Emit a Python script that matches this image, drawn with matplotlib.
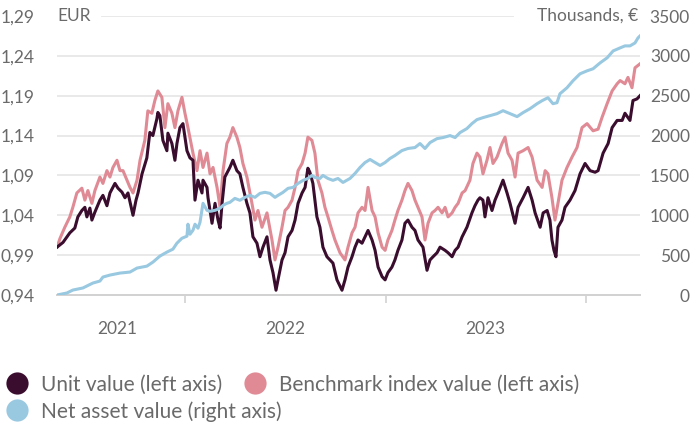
import matplotlib.pyplot as plt

plt.rcParams['font.family'] = ['Lato', 'DejaVu Sans']

# Unit value, EUR (left axis); time in decimal years
unit_t = [2021.362, 2021.392, 2021.426, 2021.451, 2021.466, 2021.486, 2021.501, 2021.511, 2021.526, 2021.536,
          2021.551, 2021.576, 2021.591, 2021.611, 2021.626, 2021.651, 2021.666, 2021.686, 2021.701, 2021.716,
          2021.741, 2021.756, 2021.766, 2021.786, 2021.810, 2021.825, 2021.840, 2021.860, 2021.865, 2021.875,
          2021.890, 2021.910, 2021.915, 2021.935, 2021.950, 2021.960, 2021.975, 2021.990, 2022.010, 2022.025,
          2022.040, 2022.050, 2022.065, 2022.085, 2022.090, 2022.110, 2022.115, 2022.135, 2022.150, 2022.165,
          2022.175, 2022.185, 2022.199, 2022.224, 2022.239, 2022.259, 2022.274, 2022.289, 2022.309, 2022.324,
          2022.339, 2022.359, 2022.374, 2022.389, 2022.409, 2022.424, 2022.439, 2022.454, 2022.464, 2022.484,
          2022.499, 2022.514, 2022.534, 2022.549, 2022.564, 2022.584, 2022.599, 2022.613, 2022.623, 2022.638,
          2022.658, 2022.673, 2022.688, 2022.708, 2022.723, 2022.738, 2022.758, 2022.783, 2022.798, 2022.813,
          2022.833, 2022.848, 2022.863, 2022.883, 2022.898, 2022.913, 2022.933, 2022.948, 2022.963, 2022.983,
          2022.998, 2023.012, 2023.032, 2023.047, 2023.062, 2023.082, 2023.097, 2023.112, 2023.132, 2023.147,
          2023.162, 2023.187, 2023.207, 2023.222, 2023.237, 2023.257, 2023.272, 2023.297, 2023.312, 2023.332,
          2023.347, 2023.362, 2023.382, 2023.406, 2023.431, 2023.446, 2023.461, 2023.471, 2023.486, 2023.496,
          2023.511, 2023.531, 2023.546, 2023.561, 2023.586, 2023.606, 2023.621, 2023.646, 2023.661, 2023.686,
          2023.711, 2023.731, 2023.746, 2023.771, 2023.786, 2023.806, 2023.820, 2023.830, 2023.840, 2023.850,
          2023.860, 2023.880, 2023.895, 2023.920, 2023.945, 2023.970, 2023.995, 2024.020, 2024.045, 2024.060,
          2024.085, 2024.110, 2024.130, 2024.155, 2024.180, 2024.194, 2024.219, 2024.234, 2024.254, 2024.269]
unit_v = [1.000, 1.006, 1.018, 1.024, 1.038, 1.046, 1.050, 1.038, 1.049, 1.034,
          1.044, 1.059, 1.065, 1.052, 1.068, 1.080, 1.074, 1.069, 1.062, 1.068,
          1.040, 1.059, 1.068, 1.092, 1.112, 1.144, 1.140, 1.161, 1.169, 1.165,
          1.134, 1.121, 1.143, 1.130, 1.109, 1.130, 1.150, 1.155, 1.121, 1.112,
          1.109, 1.059, 1.084, 1.068, 1.084, 1.075, 1.062, 1.030, 1.055, 1.034,
          1.024, 1.055, 1.088, 1.100, 1.109, 1.096, 1.092, 1.075, 1.055, 1.043,
          1.013, 1.005, 0.988, 1.000, 1.013, 0.984, 0.968, 0.946, 0.959, 0.984,
          0.993, 1.013, 1.021, 1.034, 1.055, 1.068, 1.075, 1.099, 1.094, 1.080,
          1.038, 1.025, 1.000, 0.988, 0.984, 0.980, 0.959, 0.946, 0.959, 0.975,
          0.988, 1.000, 1.009, 1.005, 1.013, 1.021, 1.009, 0.996, 0.975, 0.963,
          0.959, 0.968, 0.975, 0.984, 0.996, 1.009, 1.030, 1.034, 1.025, 1.021,
          1.009, 1.000, 0.971, 0.984, 0.988, 0.993, 1.000, 0.996, 0.993, 0.988,
          0.996, 1.000, 1.013, 1.025, 1.043, 1.052, 1.059, 1.062, 1.059, 1.038,
          1.062, 1.046, 1.059, 1.068, 1.084, 1.068, 1.055, 1.030, 1.050, 1.062,
          1.075, 1.059, 1.043, 1.025, 1.043, 1.046, 1.034, 1.009, 0.996, 0.988,
          1.025, 1.034, 1.050, 1.059, 1.071, 1.092, 1.105, 1.096, 1.094, 1.096,
          1.118, 1.130, 1.150, 1.159, 1.159, 1.168, 1.159, 1.184, 1.186, 1.190]

# Benchmark index value, EUR (left axis)
bench_t = [2021.362, 2021.377, 2021.401, 2021.426, 2021.441, 2021.461, 2021.486, 2021.501, 2021.516, 2021.536,
           2021.551, 2021.576, 2021.591, 2021.611, 2021.626, 2021.641, 2021.661, 2021.676, 2021.691, 2021.711,
           2021.726, 2021.741, 2021.761, 2021.776, 2021.800, 2021.815, 2021.835, 2021.850, 2021.865, 2021.885,
           2021.900, 2021.915, 2021.935, 2021.950, 2021.965, 2021.985, 2022.000, 2022.015, 2022.040, 2022.060,
           2022.075, 2022.090, 2022.110, 2022.125, 2022.140, 2022.160, 2022.175, 2022.190, 2022.209, 2022.224,
           2022.239, 2022.259, 2022.274, 2022.289, 2022.309, 2022.334, 2022.349, 2022.364, 2022.384, 2022.409,
           2022.434, 2022.449, 2022.464, 2022.484, 2022.499, 2022.514, 2022.534, 2022.549, 2022.564, 2022.584,
           2022.599, 2022.613, 2022.633, 2022.648, 2022.663, 2022.683, 2022.698, 2022.713, 2022.733, 2022.748,
           2022.773, 2022.798, 2022.813, 2022.833, 2022.848, 2022.863, 2022.883, 2022.898, 2022.913, 2022.933,
           2022.948, 2022.963, 2022.983, 2022.998, 2023.012, 2023.032, 2023.047, 2023.062, 2023.082, 2023.097,
           2023.112, 2023.132, 2023.147, 2023.162, 2023.182, 2023.197, 2023.212, 2023.232, 2023.247, 2023.262,
           2023.282, 2023.297, 2023.312, 2023.332, 2023.347, 2023.362, 2023.382, 2023.397, 2023.421, 2023.436,
           2023.456, 2023.471, 2023.486, 2023.506, 2023.521, 2023.536, 2023.556, 2023.581, 2023.596, 2023.611,
           2023.631, 2023.646, 2023.661, 2023.686, 2023.711, 2023.731, 2023.756, 2023.781, 2023.796, 2023.810,
           2023.830, 2023.845, 2023.860, 2023.880, 2023.905, 2023.930, 2023.955, 2023.980, 2024.005, 2024.035,
           2024.060, 2024.080, 2024.105, 2024.130, 2024.155, 2024.170, 2024.194, 2024.209, 2024.229, 2024.244,
           2024.259, 2024.269]
bench_v = [1.000, 1.011, 1.025, 1.038, 1.050, 1.068, 1.074, 1.059, 1.071, 1.055,
           1.071, 1.088, 1.080, 1.096, 1.088, 1.100, 1.109, 1.096, 1.096, 1.084,
           1.075, 1.068, 1.084, 1.109, 1.134, 1.171, 1.168, 1.184, 1.196, 1.188,
           1.150, 1.180, 1.168, 1.150, 1.171, 1.188, 1.168, 1.150, 1.118, 1.096,
           1.121, 1.100, 1.118, 1.092, 1.100, 1.075, 1.050, 1.096, 1.130, 1.138,
           1.150, 1.138, 1.125, 1.105, 1.088, 1.055, 1.034, 1.046, 1.025, 1.043,
           1.009, 0.984, 1.000, 1.025, 1.046, 1.050, 1.059, 1.075, 1.096, 1.105,
           1.118, 1.138, 1.134, 1.118, 1.084, 1.068, 1.050, 1.038, 1.021, 1.009,
           0.993, 0.984, 1.000, 1.018, 1.025, 1.043, 1.050, 1.046, 1.075, 1.046,
           1.038, 1.018, 1.000, 0.996, 1.009, 1.021, 1.034, 1.046, 1.059, 1.071,
           1.080, 1.071, 1.059, 1.050, 1.038, 1.009, 1.030, 1.043, 1.046, 1.050,
           1.043, 1.050, 1.038, 1.043, 1.050, 1.055, 1.068, 1.071, 1.084, 1.105,
           1.118, 1.113, 1.092, 1.109, 1.125, 1.105, 1.113, 1.130, 1.138, 1.118,
           1.109, 1.088, 1.118, 1.121, 1.125, 1.113, 1.084, 1.075, 1.096, 1.092,
           1.062, 1.034, 1.055, 1.084, 1.100, 1.113, 1.125, 1.150, 1.155, 1.146,
           1.148, 1.163, 1.180, 1.196, 1.205, 1.209, 1.205, 1.213, 1.200, 1.225,
           1.228, 1.230]

# Net asset value, thousands of EUR (right axis)
nav_t = [2021.362, 2021.411, 2021.441, 2021.491, 2021.541, 2021.576, 2021.591, 2021.626, 2021.676, 2021.726,
         2021.761, 2021.810, 2021.840, 2021.875, 2021.910, 2021.940, 2021.960, 2021.985, 2022.010, 2022.015,
         2022.025, 2022.040, 2022.050, 2022.065, 2022.075, 2022.090, 2022.110, 2022.125, 2022.150, 2022.175,
         2022.190, 2022.209, 2022.224, 2022.249, 2022.274, 2022.299, 2022.324, 2022.349, 2022.374, 2022.399,
         2022.424, 2022.449, 2022.464, 2022.489, 2022.514, 2022.539, 2022.564, 2022.589, 2022.613, 2022.633,
         2022.648, 2022.673, 2022.688, 2022.713, 2022.738, 2022.763, 2022.788, 2022.823, 2022.848, 2022.873,
         2022.898, 2022.923, 2022.948, 2022.973, 2022.998, 2023.022, 2023.047, 2023.082, 2023.112, 2023.147,
         2023.172, 2023.197, 2023.222, 2023.257, 2023.287, 2023.322, 2023.347, 2023.372, 2023.406, 2023.431,
         2023.456, 2023.486, 2023.521, 2023.556, 2023.586, 2023.621, 2023.656, 2023.686, 2023.721, 2023.756,
         2023.781, 2023.810, 2023.835, 2023.855, 2023.870, 2023.905, 2023.935, 2023.970, 2024.005, 2024.035,
         2024.070, 2024.105, 2024.135, 2024.170, 2024.194, 2024.219, 2024.244, 2024.259, 2024.269]
nav_v = [0, 25, 62, 88, 150, 175, 225, 250, 275, 288,
         338, 362, 412, 488, 538, 575, 650, 712, 738, 888,
         762, 812, 888, 838, 912, 1150, 1062, 1050, 1062, 1088,
         1125, 1150, 1162, 1212, 1188, 1225, 1250, 1225, 1275, 1288,
         1275, 1225, 1250, 1288, 1338, 1350, 1400, 1438, 1462, 1500,
         1475, 1462, 1500, 1462, 1438, 1462, 1412, 1462, 1525, 1600,
         1662, 1700, 1662, 1625, 1662, 1712, 1750, 1812, 1838, 1850,
         1900, 1838, 1912, 1962, 1975, 2000, 1975, 2038, 2088, 2150,
         2200, 2225, 2250, 2275, 2312, 2275, 2238, 2288, 2338, 2400,
         2438, 2475, 2400, 2412, 2525, 2600, 2688, 2775, 2812, 2838,
         2912, 2975, 3062, 3100, 3125, 3125, 3162, 3225, 3250]

left_ticks = [0.94, 0.99, 1.04, 1.09, 1.14, 1.19, 1.24, 1.29]
right_ticks = [0, 500, 1000, 1500, 2000, 2500, 3000, 3500]
year_ticks = [2022, 2023, 2024]
year_labels = ['2021', '2022', '2023']
year_label_pos = [2021.66, 2022.5, 2023.5]
series_names = ['Unit value (left axis)', 'Benchmark index value (left axis)', 'Net asset value (right axis)']

DARK = '#3a0d2e'
PINK = '#df8a94'
BLUE = '#99c8e1'
TEXT = '#6a6a6a'
GRID = '#e7e7e7'

fig = plt.figure(figsize=(6.9, 4.23), dpi=100)
ax = fig.add_axes([57 / 690, 1 - 295 / 423, 583 / 690, 279 / 423])
ax2 = ax.twinx()

ax.plot(bench_t, bench_v, color=PINK, lw=2.2, solid_joinstyle='round', zorder=3)
ax.plot(unit_t, unit_v, color=DARK, lw=2.2, solid_joinstyle='round', zorder=4)
ax2.plot(nav_t, nav_v, color=BLUE, lw=2.2, solid_joinstyle='round', zorder=3)

ax.set_xlim(2021.362, 2024.269)
ax.set_ylim(0.94, 1.29)
ax2.set_ylim(0, 3500)

# gridlines (top one broken by the unit labels)
for v in left_ticks[1:-1]:
    ax.axhline(v, color=GRID, lw=1.3, zorder=0)
ax.axhline(1.29, xmin=0.077, xmax=0.782, color=GRID, lw=1.3, zorder=0)

for a in (ax, ax2):
    for s in ['top', 'left', 'right']:
        a.spines[s].set_visible(False)
    a.spines['bottom'].set_color('#d2d2d2')
    a.spines['bottom'].set_linewidth(1.3)

ax.set_yticks(left_ticks)
ax.set_yticklabels([f'{v:.2f}'.replace('.', ',') for v in left_ticks])
ax.tick_params(axis='y', length=0, pad=16, labelsize=12.5, labelcolor=TEXT)

ax2.set_yticks(right_ticks)
ax2.set_yticklabels([str(v) for v in right_ticks])
ax2.tick_params(axis='y', length=0, pad=36, labelsize=12.5, labelcolor=TEXT)
for lab in ax2.get_yticklabels():
    lab.set_horizontalalignment('right')

ax.set_xticks(year_ticks)
ax.set_xticklabels([])
ax.tick_params(axis='x', which='major', length=6, width=1.2, color='#d2d2d2')
ax.set_xticks(year_label_pos, minor=True)
ax.set_xticklabels(year_labels, minor=True)
ax.tick_params(axis='x', which='minor', length=0, pad=19, labelsize=12.5, labelcolor=TEXT)

ax.text(0, 1.29, 'EUR', transform=ax.get_yaxis_transform(), ha='left', va='center',
        fontsize=12.5, color=TEXT)
ax.text(0.997, 1.29, 'Thousands, €', transform=ax.get_yaxis_transform(), ha='right', va='center',
        fontsize=12.5, color=TEXT)

# legend drawn in pixel space of the figure
leg = fig.add_axes([0, 0, 1, 1])
leg.set_xlim(0, 690)
leg.set_ylim(423, 0)
leg.axis('off')
legend_items = [(17, 383.5, DARK, series_names[0]),
                (255, 383.5, PINK, series_names[1]),
                (17, 410.5, BLUE, series_names[2])]
for x, y, c, name in legend_items:
    leg.plot(x, y, 'o', ms=16, color=c, mec='none')
    leg.text(x + 24, y + 7.5, name, ha='left', va='baseline', fontsize=15, color=TEXT)

fig.savefig('out.png', dpi=100)
